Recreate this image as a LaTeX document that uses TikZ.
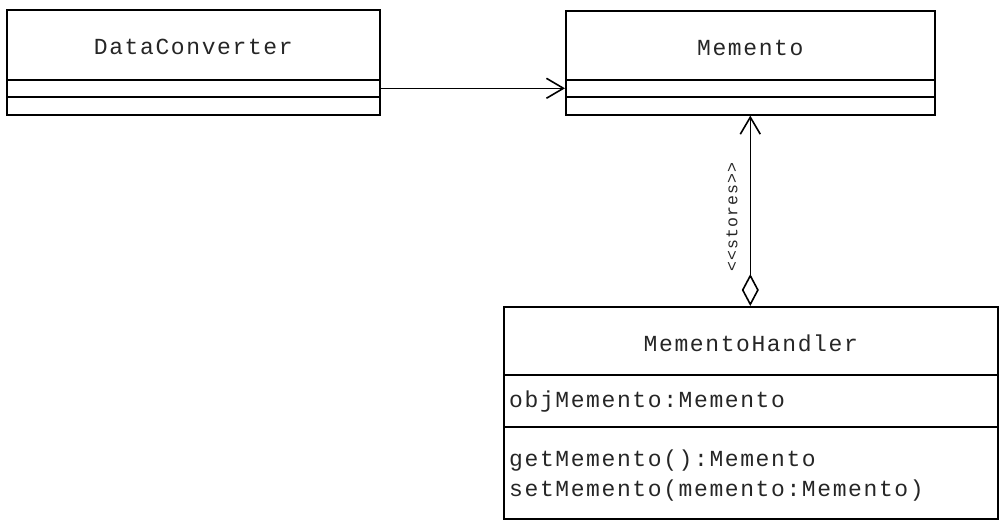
\documentclass[tikz,border=0pt]{standalone}
\usepackage{fontspec}
\newfontfamily\umlfont[LetterSpace=7]{Liberation Mono}
\usetikzlibrary{arrows.meta}
\tikzset{
  comp/.style={draw, line width=1.6pt, rectangle, inner sep=0pt, anchor=north west},
  cls/.style={font=\umlfont\fontsize{23}{27}\selectfont, text=black!85},
  mem/.style={font=\umlfont\fontsize{23}{27}\selectfont, text=black!85, anchor=west, inner sep=0pt},
  conn/.style={line width=1.6pt},
  lbl/.style={font=\umlfont\fontsize{16.5}{20}\selectfont, text=black!85, rotate=90, inner sep=0pt}
}
\begin{document}
\begin{tikzpicture}[x=1pt,y=-1pt]
\useasboundingbox (0,0) rectangle (1001,520);
% DataConverter
\node[comp, minimum width=373pt, minimum height=70pt] (dcn) at (6,9) {};
\node[comp, minimum width=373pt, minimum height=17pt] (dca) at (6,79) {};
\node[comp, minimum width=373pt, minimum height=18pt] (dcm) at (6,96) {};
\node[cls] (dct) at ([yshift=-2pt]dcn.center) {DataConverter};
% Memento
\node[comp, minimum width=369pt, minimum height=69pt] (mn) at (565,10) {};
\node[comp, minimum width=369pt, minimum height=17pt] (ma) at (565,79) {};
\node[comp, minimum width=369pt, minimum height=18pt] (mm) at (565,96) {};
\node[cls] (mt) at ([yshift=-3pt]mn.center) {Memento};
% MementoHandler
\node[comp, minimum width=494pt, minimum height=68pt] (hn) at (503,306) {};
\node[comp, minimum width=494pt, minimum height=52pt] (ha) at (503,374) {};
\node[comp, minimum width=494pt, minimum height=92pt] (hm) at (503,426) {};
\node[cls] (ht) at ([yshift=-3pt]hn.center) {MementoHandler};
\node[mem] (ha1) at (509,402) {objMemento:Memento};
\node[mem] (hm1) at (509,461) {getMemento():Memento};
\node[mem] (hm2) at (509,491) {setMemento(memento:Memento)};
% connectors
\draw[conn, -{Straight Barb[length=17pt,width=20pt,line width=1.6pt]}] (dca.east) -- (ma.west);
\draw[conn, {Diamond[open,length=32pt,width=17pt,line width=1.6pt]}-{Straight Barb[length=17pt,width=20pt,line width=1.6pt]}] (hn.north -| mm.south) -- (mm.south);
\node[lbl] (st) at (732,217) {<<stores>>};
\end{tikzpicture}
\end{document}
